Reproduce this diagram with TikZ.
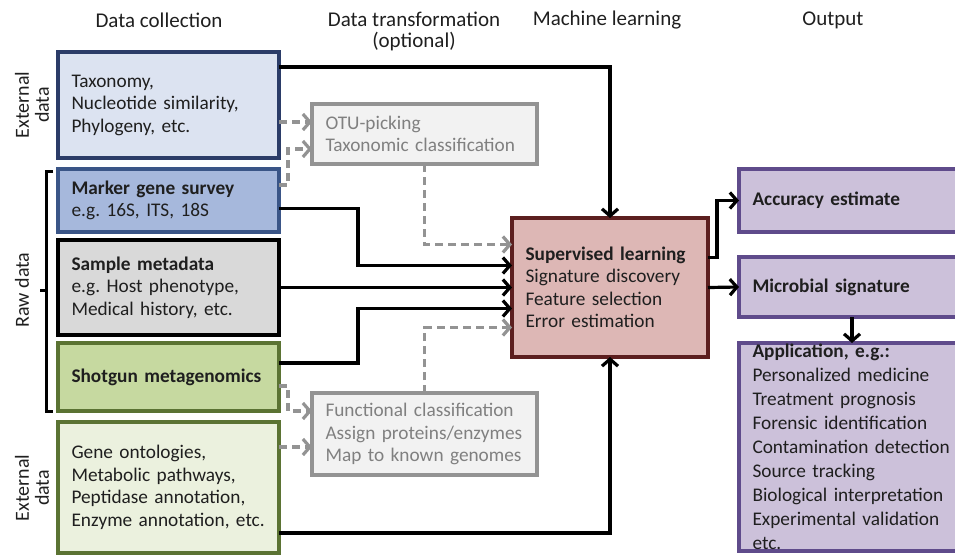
\documentclass[tikz,border=0pt]{standalone}
\usepackage{fontspec}
\setmainfont{Carlito}
\usetikzlibrary{arrows.meta}
\frenchspacing

\definecolor{taxfill}{HTML}{DCE3F1}
\definecolor{taxdraw}{HTML}{2B3C68}
\definecolor{mgsfill}{HTML}{A6B8DC}
\definecolor{mgsdraw}{HTML}{3A5587}
\definecolor{metafill}{HTML}{D9D9D9}
\definecolor{shotfill}{HTML}{C6D9A0}
\definecolor{genfill}{HTML}{EBF1DE}
\definecolor{greendraw}{HTML}{5B7333}
\definecolor{optfill}{HTML}{F2F2F2}
\definecolor{optdraw}{HTML}{939393}
\definecolor{optext}{HTML}{808080}
\definecolor{supfill}{HTML}{DDB7B5}
\definecolor{supdraw}{HTML}{5C1F1F}
\definecolor{outfill}{HTML}{CCC1DA}
\definecolor{outdraw}{HTML}{5F4B8B}

\begin{document}
\begin{tikzpicture}[x=1pt, y=-1pt,
    font=\fontsize{19.3}{22.5}\selectfont,
    databox/.style={draw, line width=4pt, outer sep=0pt, anchor=north west,
        align=left, inner xsep=13.5pt, inner ysep=0pt, text=black!88},
    optbox/.style={databox, fill=optfill, draw=optdraw, text=optext},
    outbox/.style={databox, fill=outfill, draw=outdraw, text width=199},
    header/.style={font=\fontsize{21}{21}\selectfont, text=black!88},
    sidelabel/.style={rotate=90, align=center, font=\fontsize{20}{20}\selectfont, text=black!88},
    flow/.style={line width=3.2pt, -{Straight Barb[length=7pt,width=16pt]}},
    optflow/.style={flow, draw=optdraw, dash pattern=on 8pt off 5pt}]

    \useasboundingbox (0,0) rectangle (955,555);
    \clip (0,0) rectangle (955,555);

    % Spaltenueberschriften
    \node[header] (hcol) at (159,20) {Data collection};
    \node[header, align=center] (htrans) at (414,31) {Data transformation\\(optional)};
    \node[header] (hml) at (607,20) {Machine learning};
    \node[header] (hout) at (833,20) {Output};

    % Datenquellen
    \node[databox, fill=taxfill, draw=taxdraw, text width=194, minimum height=106]
        (tax) at (58,52) {Taxonomy,\\Nucleotide similarity,\\Phylogeny, etc.};
    \node[databox, fill=mgsfill, draw=mgsdraw, text width=194, minimum height=63]
        (mgs) at (58,169) {\textbf{Marker gene survey}\\e.g. 16S, ITS, 18S};
    \node[databox, fill=metafill, draw=black, text width=194, minimum height=95]
        (meta) at (58,240) {\textbf{Sample metadata}\\e.g. Host phenotype,\\Medical history, etc.};
    \node[databox, fill=shotfill, draw=greendraw, text width=194, minimum height=68]
        (shot) at (58,343) {\textbf{Shotgun metagenomics}};
    \node[databox, fill=genfill, draw=greendraw, text width=194, minimum height=131]
        (gen) at (58,422) {Gene ontologies,\\Metabolic pathways,\\Peptidase annotation,\\Enzyme annotation, etc.};

    % Seitenbeschriftung und Klammer
    \node[sidelabel] (extA) at (32,105) {External\\data};
    \node[sidelabel] (raw) at (22,290) {Raw data};
    \node[sidelabel] (extB) at (32,488) {External\\data};
    \draw[line width=3pt] (53,171) -| (46,411) -- (53,411);
    \draw[line width=3pt] (46,290) -- (40,290);

    % Transformation (optional)
    \node[optbox, text width=198, minimum height=60]
        (otu) at (312,104) {OTU-picking\\Taxonomic classification};
    \node[optbox, text width=198, minimum height=82]
        (func) at (312,393) {Functional classification\\Assign proteins/enzymes\\Map to known genomes};

    % Maschinelles Lernen
    \node[databox, fill=supfill, draw=supdraw, text width=169, minimum height=139]
        (sup) at (512,218) {\textbf{Supervised learning}\\Signature discovery\\Feature selection\\Error estimation};

    % Ausgabe
    \node[outbox, minimum height=63] (acc) at (739,169) {\textbf{Accuracy estimate}};
    \node[outbox, minimum height=60] (mic) at (739,257) {\textbf{Microbial signature}};
    \node[outbox, minimum height=208, font=\fontsize{19.3}{24}\selectfont]
        (app) at (739,343) {\textbf{Application, e.g.:}\\Personalized medicine\\Treatment prognosis\\Forensic identification\\Contamination detection\\Source tracking\\Biological interpretation\\Experimental validation\\etc.};

    % Pfeile zum Lernen
    \draw[flow] ([yshift=-15pt]tax.north east) -| (sup.north);
    \draw[flow] ([yshift=20pt]gen.south east) -| (sup.south);
    \draw[flow] ([yshift=-8pt]mgs.east) -- ++(79,0) |- ([yshift=22pt]sup.west);
    \draw[flow] (meta.east) -- (sup.west);
    \draw[flow] ([yshift=14pt]shot.east) -- ++(79,0) |- ([yshift=-21pt]sup.west);
    \draw[optflow] (otu.south) |- ([yshift=43pt]sup.west);
    \draw[optflow] (func.north) |- ([yshift=-40pt]sup.west);

    % gestrichelte Pfeile zur Transformation
    \draw[optflow] ([yshift=12pt]otu.west -| tax.east) -- ([yshift=12pt]otu.west);
    \draw[optflow] ([yshift=-16pt]mgs.north east) -- ++(9,0) |- ([yshift=-15pt]otu.west);
    \draw[optflow] ([yshift=25pt]shot.south east) -- ++(9,0) |- ([yshift=23pt]func.west);
    \draw[optflow] ([yshift=-13pt]func.west -| gen.east) -- ([yshift=-13pt]func.west);

    % Pfeile zur Ausgabe
    \draw[flow] ([yshift=30pt]sup.east) -- ++(9,0) |- (acc.west);
    \draw[flow] (sup.east) -- (mic.west);
    \draw[flow] (mic.south) -- (app.north);
\end{tikzpicture}
\end{document}
